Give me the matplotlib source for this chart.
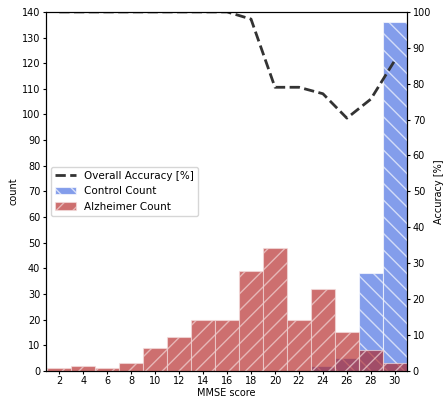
import matplotlib
matplotlib.use("Agg")
import matplotlib.pyplot as plt

# MMSE score bins (centres, width 2)
scores = [2, 4, 6, 8, 10, 12, 14, 16, 18, 20, 22, 24, 26, 28, 30]
control_count = [0, 0, 0, 0, 0, 0, 0, 0, 0, 0, 0, 2, 5, 38, 136]
alzheimer_count = [1, 2, 1, 3, 9, 13, 20, 20, 39, 48, 20, 32, 15, 8, 3]
accuracy = [100, 100, 100, 100, 100, 100, 100, 100, 98, 79, 79, 77.2, 70.4, 75.7, 86.5]

plt.rcParams['font.size'] = 7
plt.rcParams['xtick.major.size'] = 2
plt.rcParams['ytick.major.size'] = 2
plt.rcParams['xtick.major.pad'] = 2
plt.rcParams['ytick.major.pad'] = 2

fig = plt.figure(figsize=(4.44, 3.97), dpi=100)
ax1 = fig.add_axes([0.103, 0.066, 0.814, 0.904])

# counts
b1 = ax1.bar(scores, control_count, width=2, color='royalblue', alpha=0.65,
             edgecolor='white', linewidth=0.8, hatch='\\\\', label='Control Count')
b2 = ax1.bar(scores, alzheimer_count, width=2, color='firebrick', alpha=0.65,
             edgecolor='#f4dede', linewidth=0.8, hatch='//', label='Alzheimer Count')
ax1.set_xlim(0.87, 31.03)
ax1.set_ylim(0, 140)
ax1.set_xticks(range(2, 31, 2))
ax1.set_yticks(range(0, 141, 10))
ax1.set_xlabel('MMSE score', labelpad=1)
ax1.set_ylabel('count', labelpad=2)

# accuracy on the right axis
ax2 = ax1.twinx()
l1, = ax2.plot(scores, accuracy, ls='--', c='#333333', lw=2, label='Overall Accuracy [%]')
ax2.set_ylim(0, 100)
ax2.set_yticks(range(0, 101, 10))
ax2.set_ylabel('Accuracy [%]', labelpad=2)

ax1.legend([l1, b1, b2], ['Overall Accuracy [%]', 'Control Count', 'Alzheimer Count'],
           loc='center left', fontsize=7.5)

plt.savefig('out.png')
